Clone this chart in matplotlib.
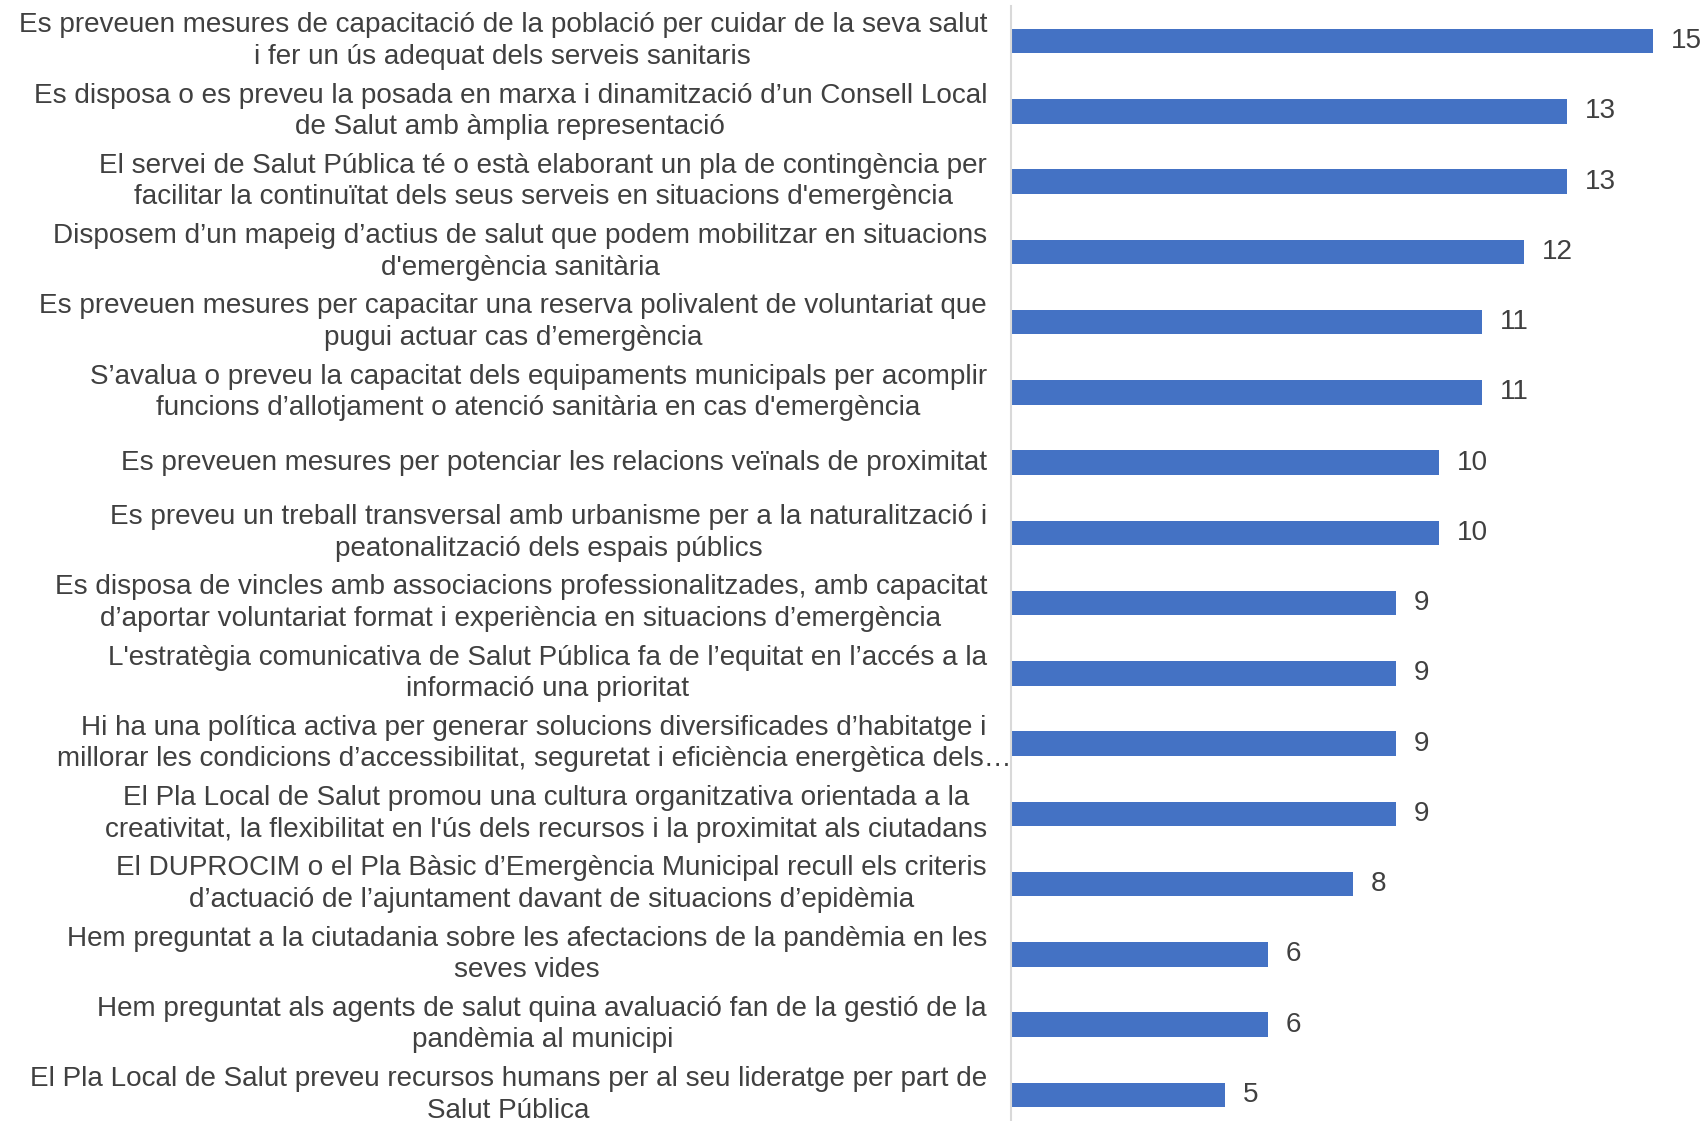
import matplotlib
matplotlib.use("Agg")
import matplotlib.pyplot as plt
import matplotlib.transforms as mtransforms

labels = [
    "Es preveuen mesures de capacitació de la població per cuidar de la seva salut\ni fer un ús adequat dels serveis sanitaris",
    "Es disposa o es preveu la posada en marxa i dinamització d’un Consell Local\nde Salut amb àmplia representació",
    "El servei de Salut Pública té o està elaborant un pla de contingència per\nfacilitar la continuïtat dels seus serveis en situacions d'emergència",
    "Disposem d’un mapeig d’actius de salut que podem mobilitzar en situacions\nd'emergència sanitària",
    "Es preveuen mesures per capacitar una reserva polivalent de voluntariat que\npugui actuar cas d’emergència",
    "S’avalua o preveu la capacitat dels equipaments municipals per acomplir\nfuncions d’allotjament o atenció sanitària en cas d'emergència",
    "Es preveuen mesures per potenciar les relacions veïnals de proximitat",
    "Es preveu un treball transversal amb urbanisme per a la naturalització i\npeatonalització dels espais públics",
    "Es disposa de vincles amb associacions professionalitzades, amb capacitat\nd’aportar voluntariat format i experiència en situacions d’emergència",
    "L'estratègia comunicativa de Salut Pública fa de l’equitat en l’accés a la\ninformació una prioritat",
    "Hi ha una política activa per generar solucions diversificades d’habitatge i\nmillorar les condicions d’accessibilitat, seguretat i eficiència energètica dels…",
    "El Pla Local de Salut promou una cultura organitzativa orientada a la\ncreativitat, la flexibilitat en l'ús dels recursos i la proximitat als ciutadans",
    "El DUPROCIM o el Pla Bàsic d’Emergència Municipal recull els criteris\nd’actuació de l’ajuntament davant de situacions d’epidèmia",
    "Hem preguntat a la ciutadania sobre les afectacions de la pandèmia en les\nseves vides",
    "Hem preguntat als agents de salut quina avaluació fan de la gestió de la\npandèmia al municipi",
    "El Pla Local de Salut preveu recursos humans per al seu lideratge per part de\nSalut Pública",
]
values = [15, 13, 13, 12, 11, 11, 10, 10, 9, 9, 9, 9, 8, 6, 6, 5]

BAR = "#4472C4"
TXT = "#404040"
FONT = "Liberation Sans"
FS = 20.1

fig = plt.figure(figsize=(17.04, 11.21), dpi=100)
ax = fig.add_axes([1011 / 1704, -0.008, 1 - 1011 / 1704, 1.0027])

n = len(values)
ypos = list(range(n))
ax.barh(ypos, values, height=0.35, color=BAR)
ax.set_ylim(n - 0.5, -0.5)
ax.set_xlim(0, 16.2)

for s in ["top", "right", "bottom"]:
    ax.spines[s].set_visible(False)
ax.spines["left"].set_color("#D9D9D9")
ax.spines["left"].set_linewidth(1.5)
ax.set_xticks([])
ax.set_yticks([])

for i, (lab, v) in enumerate(zip(labels, values)):
    off = 0 if lab.endswith("…") else -24
    tr = mtransforms.offset_copy(ax.get_yaxis_transform(), fig=fig, x=off, y=0, units="dots")
    ax.text(0, i, lab, transform=tr, ha="right", va="center", multialignment="center",
            fontsize=FS, color=TXT, family=FONT, linespacing=1.27)
    ax.annotate(str(v), (v, i), xytext=(18, 0), textcoords="offset pixels",
                ha="left", va="center", fontsize=FS, color=TXT, family=FONT,
                annotation_clip=False)

fig.savefig("out.png", dpi=100)
